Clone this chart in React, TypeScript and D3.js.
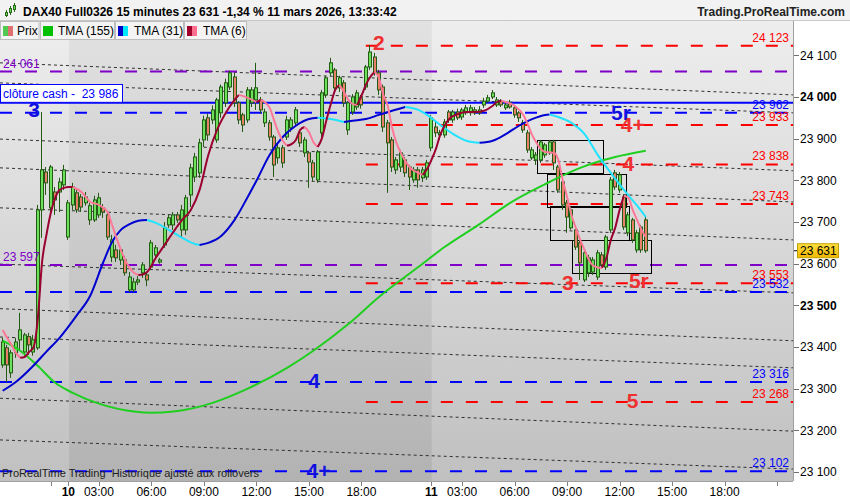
import React from "react";
import * as d3 from "d3";

// ---------- DATA ----------
const candleOpen = [
  23357, 23398, 23338, 23386, 23417, 23388, 23425, 23388, 23398, 23729, 23820, 23734, 23772, 23772, 23789,
  23664, 23741, 23770, 23760, 23746, 23705, 23705, 23717, 23734, 23717, 23616, 23633, 23609, 23609, 23537, 23537, 23556, 23578, 23573, 23592, 23621, 23604, 23645, 23693, 23693, 23717, 23681, 23681, 23765, 23808, 23818,
  23897, 23950, 23945, 23897, 23962, 23986, 24024, 24048, 23986, 23957, 23945, 23986, 23993, 23993, 23938, 23938, 23904, 23854, 23878, 23904, 23926, 23938, 23914, 23866, 23866, 23842, 23801, 23914, 24005, 24058, 24065, 24022, 24034, 23921, 23964, 23976, 23998, 24024, 24072, 24096, 24058, 24024, 23938, 23897, 23825, 23832, 23849, 23832, 23801, 23825, 23806, 23808,
  23878, 23928, 23909, 23909, 23964, 23945, 23964, 23952, 23962, 23962, 23962, 23962, 23981, 23990, 24000, 23981, 23990, 23974, 23986, 23974, 23962, 23938, 23914, 23854, 23849, 23849, 23861, 23866, 23892, 23832, 23796, 23746, 23686, 23681, 23650, 23561, 23578, 23580, 23568, 23621, 23592, 23681, 23818, 23777, 23760, 23674, 23705, 23633, 23688, 23705,
];
const candleHigh = [
  23422, 23405, 23393, 23422, 23482, 23434, 23434, 23429, 23741, 23964, 23832, 23837, 23784, 23806, 23837,
  23753, 23794, 23777, 23767, 23772, 23746, 23763, 23770, 23743, 23724, 23669, 23645, 23638, 23618, 23580, 23566, 23570, 23604, 23580, 23657, 23645, 23614, 23700, 23717, 23724, 23724, 23741, 23765, 23840, 23866, 23900,
  23955, 23960, 23980, 23998, 24030, 24044, 24063, 24058, 23990, 23962, 24024, 24024, 24082, 24000, 23972, 23945, 23909, 23890, 23885, 23955, 23952, 23976, 23921, 23904, 23870, 23849, 23873, 24017, 24051, 24094, 24070, 24051, 24041, 23990, 24007, 24017, 24005, 24077, 24125, 24106, 24065, 24030, 23945, 23904, 23856, 23873, 23856, 23837, 23832, 23832, 23832, 23849,
  23957, 23940, 23921, 23947, 23969, 23969, 23972, 23974, 23981, 23981, 23976, 23978, 23998, 24005, 24017, 24000, 23995, 23986, 23993, 23981, 23966, 23945, 23921, 23880, 23868, 23897, 23890, 23897, 23897, 23837, 23801, 23753, 23736, 23688, 23657, 23633, 23621, 23616, 23633, 23628, 23669, 23808, 23825, 23820, 23767, 23724, 23710, 23681, 23693, 23712,
];
const candleLow = [
  23350, 23316, 23326, 23374, 23393, 23379, 23381, 23379, 23393, 23662, 23765, 23722, 23717, 23724, 23777,
  23657, 23729, 23722, 23724, 23739, 23693, 23700, 23710, 23710, 23657, 23604, 23604, 23597, 23571, 23532, 23532, 23549, 23566, 23546, 23585, 23614, 23600, 23638, 23686, 23681, 23698, 23662, 23669, 23736, 23796, 23806,
  23880, 23895, 23935, 23890, 23950, 23976, 24017, 23976, 23935, 23916, 23938, 23976, 23969, 23960, 23928, 23895, 23808, 23840, 23830, 23897, 23916, 23928, 23880, 23856, 23782, 23798, 23794, 23904, 23998, 24051, 24010, 24012, 23976, 23909, 23957, 23969, 23972, 24017, 24065, 24051, 24005, 23916, 23770, 23820, 23815, 23820, 23808, 23777, 23794, 23782, 23796, 23801,
  23870, 23904, 23897, 23902, 23938, 23938, 23945, 23945, 23957, 23955, 23957, 23957, 23974, 23986, 23995, 23976, 23976, 23969, 23972, 23950, 23940, 23914, 23866, 23849, 23837, 23842, 23854, 23861, 23825, 23770, 23729, 23674, 23681, 23633, 23561, 23556, 23568, 23573, 23561, 23590, 23585, 23674, 23777, 23770, 23681, 23666, 23650, 23626, 23626, 23626,
];
const candleClose = [
  23412, 23357, 23386, 23412, 23441, 23429, 23405, 23417, 23729, 23825, 23794, 23832, 23753, 23796, 23825,
  23746, 23784, 23729, 23736, 23760, 23739, 23753, 23758, 23724, 23664, 23657, 23614, 23633, 23578, 23568, 23556, 23561, 23597, 23561, 23650, 23638, 23609, 23686, 23710, 23717, 23705, 23729, 23758, 23830, 23856, 23890,
  23945, 23909, 23969, 23993, 24024, 24034, 24058, 23986, 23945, 23933, 24017, 24017, 24022, 23969, 23964, 23904, 23837, 23878, 23842, 23945, 23945, 23969, 23890, 23897, 23844, 23808, 23868, 24010, 24046, 24082, 24022, 24046, 23986, 23986, 24000, 24010, 23981, 24072, 24108, 24058, 24017, 23928, 23890, 23832, 23849, 23866, 23818, 23808, 23825, 23801, 23825, 23842,
  23950, 23914, 23914, 23940, 23945, 23964, 23950, 23969, 23974, 23974, 23969, 23969, 23990, 23998, 24010, 23993, 23981, 23981, 23976, 23957, 23950, 23921, 23873, 23873, 23861, 23892, 23885, 23892, 23842, 23777, 23741, 23712, 23729, 23640, 23602, 23626, 23614, 23609, 23626, 23597, 23664, 23801, 23784, 23813, 23688, 23717, 23657, 23674, 23633, 23631,
];

// moving averages, [candle index, value]
const tma6 = [
  [0, 23441], [1, 23422], [2, 23405], [3, 23386], [4, 23374], [5, 23376], [6, 23388], [7, 23398], [8, 23465], [9, 23604],
  [10, 23669], [11, 23722], [12, 23758], [13, 23777], [14, 23782], [15, 23784], [16, 23784], [18, 23772], [20, 23748], [22, 23741],
  [24, 23724], [25, 23693], [26, 23662], [27, 23633], [28, 23609], [29, 23590], [30, 23578], [31, 23573], [32, 23574], [33, 23580],
  [35, 23614], [37, 23645], [39, 23676], [41, 23705], [43, 23729], [45, 23777], [47, 23861], [49, 23921], [51, 23962], [53, 23993],
  [54, 24005], [56, 23998], [58, 23988], [59, 23993], [61, 23974], [62, 23945], [63, 23916], [64, 23895], [65, 23883], [66, 23887],
  [67, 23897], [68, 23921], [69, 23928], [70, 23916], [71, 23892], [72, 23880], [73, 23902], [74, 23945], [75, 23983], [76, 24017],
  [77, 24029], [78, 24012], [79, 23993], [80, 23983], [81, 23981], [82, 24003], [83, 24029], [84, 24048], [85, 24060], [86, 24046],
  [87, 24005], [88, 23979], [89, 23926], [90, 23890], [91, 23866], [92, 23847], [93, 23832], [94, 23823], [95, 23818], [96, 23813],
  [97, 23827], [98, 23849], [99, 23875], [100, 23909], [101, 23931], [102, 23947], [104, 23959], [106, 23964], [108, 23964], [110, 23967],
  [112, 23979], [113, 23988], [114, 23991], [115, 23988], [117, 23979], [119, 23957], [120, 23935], [121, 23909], [122, 23890], [123, 23875],
  [124, 23868], [125, 23867], [126, 23866], [127, 23849], [128, 23801], [129, 23760], [130, 23717], [131, 23686], [132, 23657], [133, 23633],
  [134, 23609], [135, 23595], [136, 23591], [137, 23590], [138, 23614], [139, 23657], [140, 23686], [141, 23729], [142, 23763], [143, 23758],
  [144, 23729], [145, 23705], [146, 23681], [147, 23664],
];
const tma31 = [
  [0, 23295], [3, 23316], [7, 23355], [10, 23389], [13, 23422], [17, 23477], [20, 23523], [23, 23604], [25, 23652], [27, 23681],
  [29, 23695], [31, 23703], [33, 23705], [35, 23698], [38, 23681], [41, 23662], [44, 23647], [45, 23645], [47, 23650], [50, 23667],
  [53, 23705], [56, 23760], [58, 23799], [61, 23861], [64, 23904], [67, 23931], [70, 23947], [72, 23950], [75, 23947], [78, 23940],
  [80, 23943], [83, 23947], [86, 23957], [89, 23967], [92, 23976], [95, 23969], [97, 23957], [100, 23933], [103, 23911], [106, 23895],
  [109, 23890], [112, 23895], [115, 23911], [118, 23931], [121, 23947], [124, 23957], [125, 23958], [127, 23952], [130, 23938], [133, 23911],
  [136, 23861], [139, 23818], [142, 23777], [145, 23739], [147, 23712],
];
const tma155 = [
  [0, 23415], [4, 23391], [8, 23355], [12, 23314], [16, 23290], [22, 23264], [30, 23245], [34, 23242], [39, 23245], [48, 23266],
  [56, 23300], [65, 23350], [71, 23391], [79, 23455], [86, 23520], [95, 23592], [101, 23640], [109, 23695], [116, 23746], [124, 23791],
  [132, 23830], [140, 23856], [147, 23871],
];

const priceTicks = [23100, 23200, 23300, 23400, 23500, 23600, 23700, 23800, 23900, 24000, 24100];
const boldTicks = [23500, 24000];
const timeTickIndex = [11, 15, 22, 34, 46, 58, 70, 82, 98, 105, 117, 129, 141, 153, 165, 177];
const timeTickLabel = ["", "10", "03:00", "06:00", "09:00", "12:00", "15:00", "18:00", "11", "03:00", "06:00", "09:00", "12:00", "15:00", "18:00", ""];
const sessionStart = [15, 98];

const redLevels = [24123, 23933, 23838, 23743, 23553, 23268];
const redStartIndex = 83;
const blueLevels = [23962, 23532, 23316, 23102];
const purpleLevels = [24061, 23597];
const cashClose = 23986;
const lastPrice = 23631;

const dotStart = [24082, 24034, 23899, 23830, 23734, 23599, 23492, 23424, 23277, 23177];
const dotEnd = [24005, 23962, 23823, 23748, 23657, 23530, 23415, 23350, 23198, 23107];

const boxStart = [122.1, 124.3, 125.2, 130.2];
const boxEnd = [137.2, 142.3, 143.2, 148.3];
const boxTop = [23897, 23816, 23738, 23656];
const boxBottom = [23818, 23738, 23656, 23578];

const markText = ["2", "3", "5r", "4+", "4", "3", "5r", "4", "5", "4+"];
const markColor = ["red", "blue", "blue", "red", "red", "red", "red", "blue", "red", "blue"];
const markIndex = [86, 7.2, 141.3, 144, 143, 129.2, 145.4, 71.2, 144, 72.2];
const markPrice = [24113, 23952, 23945, 23916, 23823, 23537, 23542, 23302, 23254, 23086];

// ---------- STYLE ----------
const FONT = '"Liberation Sans", Arial, Helvetica, sans-serif';
const W = 850, H = 500;
const PL = 0, PR = 793, PT = 21, PB = 481;
const RED = "#ff0000", BLUE = "#0000ff", PURPLE = "#7f00c8";
const colorOf: Record<string, string> = { red: "#f03030", blue: "#1010e0" };

const fmt = (v: number) => d3.format(",")(v).replace(/,/g, " ");

function runs(pts: number[][]) {
  const out: { up: boolean; pts: number[][] }[] = [];
  for (let i = 1; i < pts.length; i++) {
    const up = pts[i][1] >= pts[i - 1][1];
    const last = out[out.length - 1];
    if (last && last.up === up) last.pts.push(pts[i]);
    else out.push({ up, pts: [pts[i - 1], pts[i]] });
  }
  return out;
}

export default function App() {
  const x = d3.scaleLinear().domain([0, 180]).range([2.7, 2.7 + 180 * 4.375]);
  const y = d3.scaleLinear().domain([23100, 24100]).range([472, 55.33]);
  const line = d3
    .line<number[]>()
    .x((d) => x(d[0]))
    .y((d) => y(d[1]))
    .curve(d3.curveMonotoneX);

  const b1 = x(sessionStart[0]) + 0.7;
  const b2 = x(sessionStart[1]) + 0.5;

  const hLine = (v: number, x1: number, color: string, key: string, dash?: string) => (
    <line key={key} x1={x1} x2={PR} y1={y(v)} y2={y(v)} stroke={color} strokeWidth={2} strokeDasharray={dash} />
  );

  const legendItems = [
    { x: 0.5, w: 38.5, label: "Prix", c1: "#4fc94f", c2: "#e07070", tx: 17 },
    { x: 40.5, w: 74, label: "TMA (155)", c1: "#00c000", c2: "#00c000", tx: 58 },
    { x: 115.5, w: 68, label: "TMA (31)", c1: "#0000c8", c2: "#00e8ff", tx: 134 },
    { x: 184.5, w: 62, label: "TMA (6)", c1: "#a0002a", c2: "#ff7090", tx: 203 },
  ];

  return (
    <div style={{ position: "fixed", left: 0, top: 0, width: W, height: H }}>
      <svg width={W} height={H} style={{ display: "block" }} fontFamily={FONT}>
        <defs>
          <linearGradient id="bgLight" gradientUnits="userSpaceOnUse" x1={0} y1={PT} x2={0} y2={PB}>
            <stop offset="0" stopColor="#eeeeee" />
            <stop offset="1" stopColor="#c0c0c0" />
          </linearGradient>
          <linearGradient id="bgDark" gradientUnits="userSpaceOnUse" x1={0} y1={PT} x2={0} y2={PB}>
            <stop offset="0" stopColor="#e2e2e2" />
            <stop offset="1" stopColor="#b2b2b2" />
          </linearGradient>
          <linearGradient id="gold" x1={0} y1={0} x2={0} y2={1}>
            <stop offset="0" stopColor="#ffe040" />
            <stop offset="1" stopColor="#f0b800" />
          </linearGradient>
          <clipPath id="plotClip">
            <rect x={PL} y={PT} width={PR - PL} height={PB - PT} />
          </clipPath>
        </defs>

        <rect x={0} y={0} width={W} height={H} fill="#ffffff" />

        {/* plot background */}
        <rect x={PL} y={PT} width={b1 - PL} height={PB - PT} fill="url(#bgLight)" />
        <rect x={b1} y={PT} width={b2 - b1} height={PB - PT} fill="url(#bgDark)" />
        <rect x={b2} y={PT} width={PR - b2} height={PB - PT} fill="url(#bgLight)" />

        <g clipPath="url(#plotClip)">
          {/* channel dotted lines */}
          {dotStart.map((v, i) => (
            <line
              key={"dot" + i}
              x1={PL}
              x2={PR}
              y1={y(v)}
              y2={y(dotEnd[i])}
              stroke="#303030"
              strokeWidth={1}
              strokeDasharray="3,3"
            />
          ))}

          {/* horizontal levels */}
          {purpleLevels.map((v, i) => hLine(v, PL, PURPLE, "pu" + i, "12,13"))}
          {blueLevels.map((v, i) => hLine(v, PL, BLUE, "bl" + i, "12,13"))}
          {redLevels.map((v, i) => hLine(v, x(redStartIndex), RED, "rd" + i, "12,13"))}
          {hLine(cashClose, PL, BLUE, "cash")}

          {/* boxes */}
          {boxStart.map((s, i) => (
            <rect
              key={"box" + i}
              x={Math.round(x(s)) + 0.5}
              y={Math.round(y(boxTop[i])) + 0.5}
              width={Math.round(x(boxEnd[i]) - x(s))}
              height={Math.round(y(boxBottom[i]) - y(boxTop[i]))}
              fill="none"
              stroke="#000"
              strokeWidth={1}
            />
          ))}

          {/* candles */}
          {candleOpen.map((o, i) => {
            const c = candleClose[i];
            const cx = Math.round(x(i));
            const top = y(Math.max(o, c));
            const bot = y(Math.min(o, c));
            const bull = c >= o;
            return (
              <g key={"c" + i}>
                <line
                  x1={cx - 0.5}
                  x2={cx - 0.5}
                  y1={y(candleHigh[i])}
                  y2={y(candleLow[i])}
                  stroke="#235a14"
                  strokeWidth={1}
                />
                <rect
                  x={cx - 1.5}
                  y={top}
                  width={3}
                  height={Math.max(1, bot - top)}
                  fill={bull ? "#6be05a" : "#e8806a"}
                  stroke="#235a14"
                  strokeWidth={1}
                />
              </g>
            );
          })}

          {/* moving averages */}
          <path d={line(tma155) || ""} fill="none" stroke="#1fcf1f" strokeWidth={2} />
          {runs(tma31).map((r, i) => (
            <path key={"t31" + i} d={line(r.pts) || ""} fill="none" stroke={r.up ? "#0000d0" : "#20e4ff"} strokeWidth={2} />
          ))}
          {runs(tma6).map((r, i) => (
            <path key={"t6" + i} d={line(r.pts) || ""} fill="none" stroke={r.up ? "#9a0030" : "#ff7898"} strokeWidth={2} />
          ))}

          {/* level value labels */}
          {redLevels.map((v, i) => (
            <text key={"rl" + i} x={789} y={y(v) - 4} fontSize={12} fill={RED} textAnchor="end">
              {fmt(v)}
            </text>
          ))}
          {blueLevels.map((v, i) => (
            <text key={"bll" + i} x={789} y={y(v) - 4} fontSize={12} fill={BLUE} textAnchor="end">
              {fmt(v)}
            </text>
          ))}
          {purpleLevels.map((v, i) => (
            <text key={"pl" + i} x={3} y={y(v) - 4} fontSize={12} fill={PURPLE}>
              {fmt(v)}
            </text>
          ))}

          {/* cash close box */}
          <rect x={0.5} y={84.5} width={122} height={y(cashClose) - 85} fill="#ffffff" stroke={BLUE} strokeWidth={1} />
          <text x={3} y={97.5} fontSize={12} fill={BLUE} xmlSpace="preserve">
            {"clôture cash -  " + fmt(cashClose)}
          </text>

          {/* wave marks */}
          {markText.map((t, i) => (
            <text
              key={"mk" + i}
              x={x(markIndex[i])}
              y={y(markPrice[i])}
              fontSize={21}
              fontWeight="bold"
              fill={colorOf[markColor[i]]}
              textAnchor="middle"
            >
              {t}
            </text>
          ))}

          <text x={2} y={477} fontSize={11} fill="#222" xmlSpace="preserve">
            ProRealTime Trading  Historique ajusté aux rollovers
          </text>
        </g>

        {/* title bar */}
        <rect x={0} y={0} width={W} height={20} fill="#f2f2f2" />
        <line x1={0} x2={W} y1={20.5} y2={20.5} stroke="#c8c8c8" />
        <g>
          <line x1={6.5} x2={6.5} y1={10} y2={17} stroke="#2a6a1a" />
          <rect x={5.5} y={12.5} width={2} height={3} fill="#6be05a" stroke="#2a6a1a" />
          <line x1={10.5} x2={10.5} y1={6} y2={15} stroke="#2a6a1a" />
          <rect x={9.5} y={8.5} width={2} height={4} fill="#6be05a" stroke="#2a6a1a" />
          <line x1={14.5} x2={14.5} y1={3} y2={12} stroke="#2a6a1a" />
          <rect x={13.5} y={5.5} width={2} height={4} fill="#6be05a" stroke="#2a6a1a" />
        </g>
        <text x={23} y={16} fontSize={12} fontWeight="bold" fill="#000">
          DAX40 Full0326 15 minutes 23 631 -1,34 % 11 mars 2026, 13:33:42
        </text>
        <text x={845} y={16} fontSize={12} fontWeight="bold" fill="#222" textAnchor="end">
          Trading.ProRealTime.com
        </text>

        {/* legend boxes */}
        {legendItems.map((it, i) => (
          <g key={"lg" + i}>
            <rect x={it.x} y={21.5} width={it.w} height={18} fill="#f4f4f4" stroke="#bdbdbd" />
            <rect x={it.x + 2.5} y={26} width={5} height={10} fill={it.c1} />
            <rect x={it.x + 7.5} y={26} width={5} height={10} fill={it.c2} />
            <text x={it.tx} y={35} fontSize={12} fill="#000">
              {it.label}
            </text>
          </g>
        ))}

        {/* plot borders */}
        <line x1={PR + 0.5} x2={PR + 0.5} y1={PT} y2={PB} stroke="#a0a0a0" />
        <line x1={PL} x2={PR} y1={PB + 0.5} y2={PB + 0.5} stroke="#a0a0a0" />

        {/* price axis */}
        {priceTicks.map((v) => (
          <g key={"pt" + v}>
            <line x1={PR + 1} x2={PR + 6} y1={Math.round(y(v)) + 0.5} y2={Math.round(y(v)) + 0.5} stroke="#707070" />
            <text
              x={800}
              y={y(v)}
              dy="0.35em"
              fontSize={12}
              fontWeight={boldTicks.includes(v) ? "bold" : "normal"}
              fill="#000"
            >
              {fmt(v)}
            </text>
          </g>
        ))}
        <line x1={PR + 1} x2={PR + 5} y1={y(lastPrice)} y2={y(lastPrice)} stroke="#000" />
        <rect x={797.5} y={y(lastPrice) - 7} width={41} height={14} fill="url(#gold)" stroke="#c0a000" />
        <text x={800} y={y(lastPrice)} dy="0.35em" fontSize={12} fill="#000">
          {fmt(lastPrice)}
        </text>

        {/* time axis */}
        {timeTickIndex.map((k, i) => (
          <g key={"tt" + i}>
            <line x1={Math.round(x(k)) + 0.5} x2={Math.round(x(k)) + 0.5} y1={PB + 1} y2={PB + 5} stroke="#808080" />
            <text
              x={x(k)}
              y={496}
              fontSize={12}
              textAnchor="middle"
              fontWeight={timeTickLabel[i].length <= 2 ? "bold" : "normal"}
              fill="#000"
            >
              {timeTickLabel[i]}
            </text>
          </g>
        ))}
      </svg>
    </div>
  );
}
